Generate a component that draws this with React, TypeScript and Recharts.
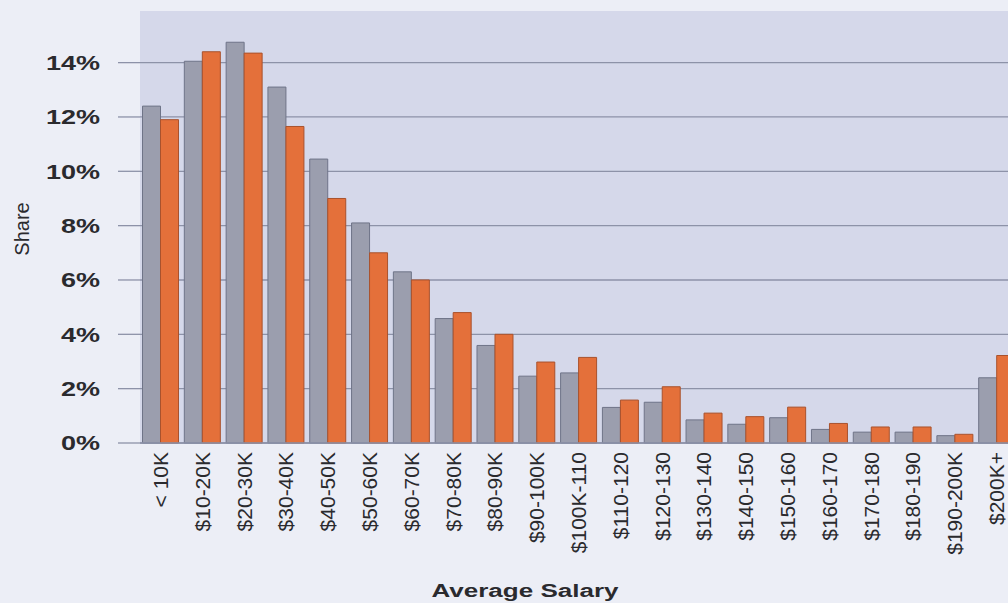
import { BarChart, Bar, XAxis, YAxis, CartesianGrid } from "recharts";

// salary bands and the two share series (percent)
const salaryBands = [
  "< 10K", "$10-20K", "$20-30K", "$30-40K", "$40-50K", "$50-60K", "$60-70K",
  "$70-80K", "$80-90K", "$90-100K", "$100K-110", "$110-120", "$120-130",
  "$130-140", "$140-150", "$150-160", "$160-170", "$170-180", "$180-190",
  "$190-200K", "$200K+",
];
const grayShare = [
  12.4, 14.05, 14.75, 13.1, 10.45, 8.1, 6.3, 4.58, 3.59, 2.46, 2.58, 1.31, 1.5,
  0.85, 0.69, 0.93, 0.5, 0.4, 0.4, 0.27, 2.4,
];
const orangeShare = [
  11.9, 14.4, 14.35, 11.65, 9.0, 7.0, 6.0, 4.8, 4.0, 2.98, 3.15, 1.58, 2.07,
  1.1, 0.97, 1.32, 0.72, 0.59, 0.59, 0.32, 3.22,
];
const yTicks = [0, 2, 4, 6, 8, 10, 12, 14];

const data = salaryBands.map((band, i) => ({
  band,
  gray: grayShare[i],
  orange: orangeShare[i],
}));

const GRID = "#8d92a8";
const FONT = "'Liberation Sans', Arial, sans-serif";

function YTick(props: any) {
  const { x, y, payload } = props;
  return (
    <text
      transform={`translate(${x},${y}) scale(1.35,1)`}
      textAnchor="end"
      dy="0.36em"
      fontFamily={FONT}
      fontSize={20}
      fontWeight="bold"
      fill="#2a2a2e"
    >
      {payload.value}%
    </text>
  );
}

function XTick(props: any) {
  const { x, y, payload } = props;
  return (
    <text
      transform={`translate(${x + 7},${y}) rotate(-90)`}
      textAnchor="end"
      fontFamily={FONT}
      fontSize={21}
      fill="#2a2a2e"
    >
      {payload.value}
    </text>
  );
}

function ShareLabel(props: any) {
  const { viewBox } = props;
  const cx = 22;
  const cy = viewBox.y + viewBox.height / 2 + 2;
  return (
    <text
      transform={`translate(${cx + 7},${cy}) rotate(-90)`}
      textAnchor="middle"
      fontFamily={FONT}
      fontSize={20}
      fill="#2a2a2e"
    >
      Share
    </text>
  );
}

function SalaryLabel(props: any) {
  const { viewBox } = props;
  const cx = 525;
  const cy = viewBox.y + viewBox.height - 6;
  return (
    <text
      transform={`translate(${cx},${cy}) scale(1.37,1)`}
      textAnchor="middle"
      fontFamily={FONT}
      fontSize={19}
      fontWeight="bold"
      fill="#2a2a2e"
    >
      Average Salary
    </text>
  );
}

export default function App() {
  return (
    <div
      style={{
        position: "absolute",
        left: 0,
        top: 0,
        width: 1008,
        height: 603,
        overflow: "hidden",
        background: "#eceef6",
      }}
    >
      <BarChart
        width={1026}
        height={603}
        data={data}
        margin={{ top: 11, right: 8, bottom: 0, left: 0 }}
        barCategoryGap="6%"
        barGap={0}
      >
        <CartesianGrid
          vertical={false}
          syncWithTicks
          stroke={GRID}
          strokeWidth={1.3}
          fill="#d5d8ea"
        />
        <XAxis
          dataKey="band"
          interval={0}
          height={160}
          tickSize={0}
          tickMargin={9}
          tick={<XTick />}
          axisLine={{ stroke: GRID, strokeWidth: 1.3 }}
          label={<SalaryLabel />}
        />
        <YAxis
          width={140}
          domain={[0, 15.9]}
          ticks={yTicks}
          tickSize={22}
          tickMargin={18}
          tickLine={{ stroke: GRID, strokeWidth: 1.3 }}
          axisLine={false}
          tick={<YTick />}
          label={<ShareLabel />}
        />
        <Bar dataKey="gray" fill="#9b9eae" stroke="#6f7488" strokeWidth={1} isAnimationActive={false} />
        <Bar dataKey="orange" fill="#e4703a" stroke="#a9522d" strokeWidth={1} isAnimationActive={false} />
      </BarChart>
    </div>
  );
}
